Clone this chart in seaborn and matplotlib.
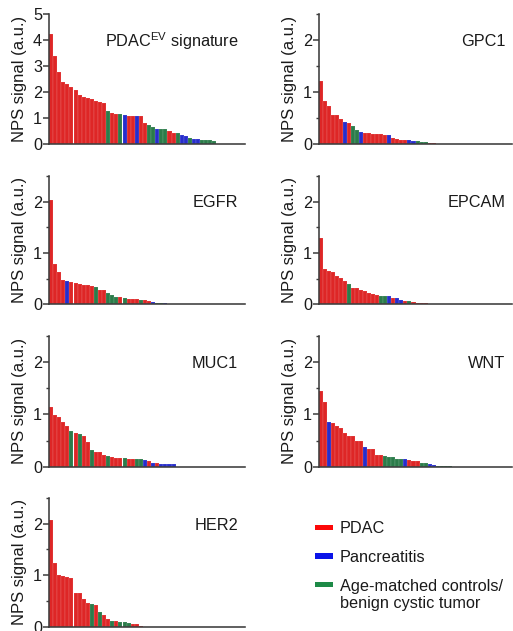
import matplotlib
matplotlib.use("Agg")
import matplotlib.pyplot as plt
import pandas as pd
import seaborn as sns
from matplotlib.patches import Rectangle
from matplotlib.ticker import MultipleLocator

sns.set_theme(style="ticks")
plt.rcParams["font.family"] = ["Liberation Sans", "DejaVu Sans"]
plt.rcParams["mathtext.fontset"] = "custom"
plt.rcParams["mathtext.rm"] = "Liberation Sans"

# Group codes: R = PDAC, B = pancreatitis, G = age-matched controls / benign cystic tumor
GROUP_LABELS = {"R": "PDAC", "B": "Pancreatitis",
                "G": "Age-matched controls/\nbenign cystic tumor"}
GROUP_COLORS = {"R": "#fc0808", "B": "#0b14e8", "G": "#1d8a47"}

signature_values = [4.23, 3.37, 2.78, 2.40, 2.32, 2.20, 2.10, 1.90, 1.81, 1.77,
                    1.75, 1.65, 1.62, 1.60, 1.28, 1.19, 1.18, 1.15, 1.12, 1.09,
                    1.08, 1.08, 1.07, 0.82, 0.75, 0.66, 0.58, 0.58, 0.57, 0.52,
                    0.44, 0.42, 0.36, 0.32, 0.25, 0.21, 0.20, 0.17, 0.16, 0.15, 0.12]
signature_groups = list("RRRRRRRRRRRRRRGRRGBRRBRRGGBGGRRGBBGBBGGGG")

gpc1_values = [1.22, 0.84, 0.73, 0.57, 0.56, 0.49, 0.42, 0.41, 0.36, 0.28,
               0.24, 0.22, 0.21, 0.20, 0.20, 0.19, 0.18, 0.17, 0.13, 0.10,
               0.09, 0.09, 0.08, 0.07, 0.06, 0.05, 0.05, 0.03, 0.02, 0.01, 0.01]
gpc1_groups = list("RRRRRRBRGGBRRRRRRBRRRRBBGGGRRGG")

egfr_values = [2.03, 0.79, 0.63, 0.48, 0.45, 0.43, 0.42, 0.40, 0.38, 0.37,
               0.36, 0.34, 0.27, 0.27, 0.22, 0.18, 0.15, 0.14, 0.12, 0.11,
               0.11, 0.10, 0.09, 0.08, 0.06, 0.04, 0.03, 0.03, 0.02]
egfr_groups = list("RRRRBRRRRRRGRRGGGRGRRRGRRBGGB")

epcam_values = [1.29, 0.68, 0.65, 0.62, 0.55, 0.52, 0.46, 0.39, 0.32, 0.31,
                0.27, 0.25, 0.22, 0.21, 0.18, 0.17, 0.17, 0.17, 0.12, 0.12,
                0.08, 0.06, 0.06, 0.05, 0.03, 0.02, 0.02, 0.015]
epcam_groups = list("RRRRRRRGRRRRRRRGGBRBBRGRRRRG")

muc1_values = [1.15, 0.98, 0.96, 0.85, 0.78, 0.69, 0.64, 0.63, 0.59, 0.48,
               0.31, 0.29, 0.28, 0.23, 0.21, 0.19, 0.17, 0.17, 0.17, 0.15,
               0.15, 0.15, 0.14, 0.13, 0.10, 0.08, 0.07, 0.06, 0.06, 0.05, 0.05]
muc1_groups = list("RRRRRGRGRRGRRRGRRRGRRGGBRBRBBBB")

wnt_values = [1.44, 1.23, 0.85, 0.83, 0.78, 0.74, 0.64, 0.59, 0.58, 0.50,
              0.49, 0.38, 0.33, 0.33, 0.22, 0.22, 0.20, 0.19, 0.19, 0.15,
              0.15, 0.15, 0.13, 0.10, 0.10, 0.08, 0.08, 0.06, 0.04, 0.02,
              0.01, 0.01, 0.01]
wnt_groups = list("RRBRRRRRRRRBRRRRGGGGGBRRRGGBBGGGG")

her2_values = [2.08, 1.24, 1.01, 0.99, 0.97, 0.95, 0.66, 0.66, 0.54, 0.46,
               0.45, 0.42, 0.28, 0.23, 0.14, 0.12, 0.11, 0.10, 0.09, 0.08,
               0.06, 0.05, 0.02]
her2_groups = list("RRRRRRRRRRGRGRRGRGGGRRR")

panels = [
    (r"PDAC$^{\mathrm{EV}}$ signature", signature_values, signature_groups, 5),
    ("GPC1", gpc1_values, gpc1_groups, 2.5),
    ("EGFR", egfr_values, egfr_groups, 2.5),
    ("EPCAM", epcam_values, epcam_groups, 2.5),
    ("MUC1", muc1_values, muc1_groups, 2.5),
    ("WNT", wnt_values, wnt_groups, 2.5),
    ("HER2", her2_values, her2_groups, 2.5),
]

W, H = 513, 631
fig = plt.figure(figsize=(W / 100, H / 100), dpi=100)

col_x = [(49, 245), (319, 512)]
row_y = [(14, 144.3), (176, 304.3), (336, 466.7), (498, 626.7)]

spine_color = "#3c3c3c"
for i, (title, vals, grps, ymax) in enumerate(panels):
    r, c = divmod(i, 2)
    x0, x1 = col_x[c]
    yt, yb = row_y[r]
    ax = fig.add_axes([x0 / W, (H - yb) / H, (x1 - x0) / W, (yb - yt) / H])
    df = pd.DataFrame({"rank": range(len(vals)), "signal": vals, "group": grps})
    sns.barplot(data=df, x="rank", y="signal", hue="group",
                hue_order=["R", "B", "G"], palette=GROUP_COLORS,
                dodge=False, width=1.0, errorbar=None, legend=False,
                linewidth=0.35, edgecolor=(1, 1, 1, 0.25), ax=ax)
    ax.set_xlim(-0.5, 47.5)
    ax.set_ylim(0, ymax)
    ax.yaxis.set_major_locator(MultipleLocator(1))
    if ymax < 3:
        ax.yaxis.set_minor_locator(MultipleLocator(0.5))
    ax.set_xticks([])
    ax.set_xlabel("")
    ax.set_ylabel("NPS signal (a.u.)", fontsize=12, color="#1a1a1a", labelpad=4.5)
    for side in ("top", "right"):
        ax.spines[side].set_visible(False)
    for side in ("left", "bottom"):
        ax.spines[side].set_color(spine_color)
        ax.spines[side].set_linewidth(1.15)
    ax.tick_params(axis="y", which="major", direction="out", length=4, width=1.1,
                   pad=1, labelsize=11.7, color=spine_color, labelcolor="#1a1a1a")
    ax.tick_params(axis="y", which="minor", direction="out", length=2, width=1.0,
                   color=spine_color)
    ax.set_facecolor("none")
    ax.text(0.965, 0.79, title, transform=ax.transAxes, ha="right", va="center",
            fontsize=11.7, color="#1a1a1a")

# Group key in the empty slot
key_rows = [("R", 527.5), ("B", 556.0), ("G", 584.8)]
for code, yc in key_rows:
    fig.add_artist(Rectangle((315 / W, (H - yc - 2.6) / H), 18 / W, 5.2 / H,
                             transform=fig.transFigure,
                             facecolor=GROUP_COLORS[code], edgecolor="none"))
    fig.text(340 / W, (H - yc + 6.3) / H, GROUP_LABELS[code], ha="left",
             va="top", fontsize=11.7, color="#1a1a1a", linespacing=1.22)

fig.savefig("out.png", dpi=100)
